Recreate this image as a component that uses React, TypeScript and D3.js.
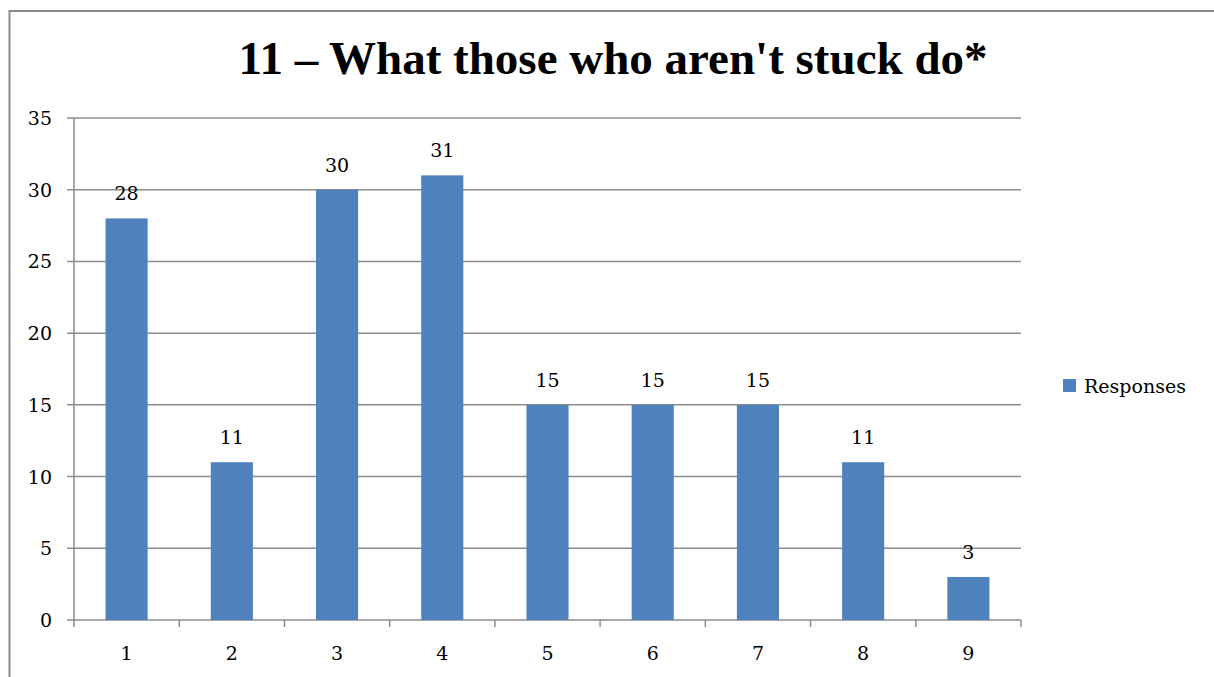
import React from "react";
import * as d3 from "d3";

const categories = ["1", "2", "3", "4", "5", "6", "7", "8", "9"];
const responses = [28, 11, 30, 31, 15, 15, 15, 11, 3];
const yTicks = [0, 5, 10, 15, 20, 25, 30, 35];
const seriesName = "Responses";
const title = "11 – What those who aren't stuck do*";

const W = 1214;
const H = 677;
const FONT = "'DejaVu Serif', serif";
const TITLE_FONT = "'Liberation Serif', 'Times New Roman', serif";
const BAR = "#4F81BD";
const GRID = "#8C8C8C";
const txt: React.CSSProperties = { fontFamily: FONT, fontWeight: 400 };

export default function App() {
  const x = d3.scaleBand<string>().domain(categories).range([74, 1021]).paddingInner(0.6).paddingOuter(0.3);
  const y = d3.scaleLinear().domain([0, 35]).range([620, 118]);
  const [left, right] = x.range();
  const slot = (right - left) / categories.length;
  const boundaries = d3.range(categories.length + 1).map((i) => left + i * slot);
  const bw = slot * 0.4;

  return (
    <svg width={W} height={H} style={{ position: "absolute", left: 0, top: 0, background: "#fff" }}>
      {/* outer chart frame */}
      <rect x={9.5} y={11} width={W + 10} height={H + 10} fill="none" stroke="#8C8C8C" strokeWidth={2} />
      <text x={613} y={74} textAnchor="middle" fontSize={47} fontWeight="bold" fill="#000" style={{ fontFamily: TITLE_FONT }}>{title}</text>

      {/* gridlines and y ticks */}
      {yTicks.map((t) => (
        <g key={t}>
          <line x1={67} x2={right} y1={y(t)} y2={y(t)} stroke={GRID} strokeWidth={1.5} />
          <text x={52} y={y(t) + 7} textAnchor="end" fontSize={19} fill="#000" style={txt}>{t}</text>
        </g>
      ))}
      <line x1={left} x2={left} y1={y(35)} y2={y(0)} stroke={GRID} strokeWidth={1.5} />

      {/* x axis ticks at category boundaries */}
      {boundaries.map((b, i) => (
        <line key={i} x1={b} x2={b} y1={y(0)} y2={y(0) + 7} stroke={GRID} strokeWidth={1.5} />
      ))}

      {/* bars with value labels */}
      {categories.map((c, i) => {
        const cx = (x(c) as number) + x.bandwidth() / 2;
        return (
          <g key={c}>
            <rect x={cx - bw / 2} y={y(responses[i])} width={bw} height={y(0) - y(responses[i])} fill={BAR} />
            <text x={cx} y={y(responses[i]) - 18} textAnchor="middle" fontSize={19} fill="#000" style={txt}>{responses[i]}</text>
            <text x={cx} y={660} textAnchor="middle" fontSize={19} fill="#000" style={txt}>{c}</text>
          </g>
        );
      })}

      {/* legend */}
      <rect x={1063} y={379} width={13} height={13} fill={BAR} />
      <text x={1084} y={393} fontSize={19} fill="#000" style={txt}>{seriesName}</text>
    </svg>
  );
}
